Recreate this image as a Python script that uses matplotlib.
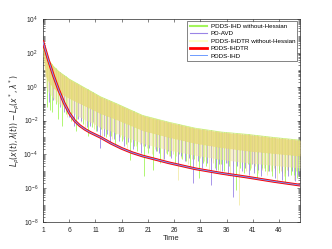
import numpy as np
import matplotlib
matplotlib.use("Agg")
import matplotlib.pyplot as plt
from matplotlib.ticker import LogLocator, NullFormatter

plt.rcParams['font.family'] = ['Liberation Sans', 'DejaVu Sans']
plt.rcParams['mathtext.fontset'] = 'dejavusans'

# ---- data (log10 of the gap) ----
t_smooth = [1, 2, 3, 4, 5, 6, 7, 8, 9, 10, 12, 14, 16, 18, 20, 23, 25, 30, 35, 40, 45, 50]
smooth_exp = [2.65, 1.6, 0.65, -0.2, -0.95, -1.55, -2.0, -2.3, -2.52, -2.7, -3.0, -3.35,
              -3.65, -3.9, -4.1, -4.34, -4.5, -4.85, -5.12, -5.35, -5.6, -5.82]

t_env = [1, 1.5, 2, 3, 4, 6, 8, 10, 12, 15, 20, 25, 30, 35, 40, 45, 50]
band_hi = [2.3, 1.9, 1.6, 1.2, 0.9, 0.45, 0.1, -0.25, -0.6, -1.0, -1.7, -2.1, -2.45, -2.68, -2.82, -3.0, -3.16]
band_lo = [1.9, 0.6, 0.3, -0.1, -0.35, -0.7, -1.0, -1.3, -1.6, -1.95, -2.6, -3.0, -3.35, -3.6, -3.8, -3.95, -4.1]
band_lo2 = [1.8, 0.0, -0.3, -0.7, -1.0, -1.4, -1.8, -2.1, -2.4, -2.75, -3.35, -3.75, -4.05, -4.3, -4.5, -4.65, -4.8]

# deep spikes
green_t = [1.8, 2.3, 2.7, 3.4, 3.9, 4.6, 5.3, 6.4, 7.2, 8.6, 9.5, 11.2, 13.0, 14.7, 16.1, 17.6, 19.0,
           20.2, 22.0, 23.3, 24.6, 26.2, 27.5, 29.0, 30.8, 32.1, 34.4, 35.6, 37.8, 39.3, 40.5, 41.8,
           43.4, 44.6, 46.0, 47.2, 48.3, 49.5]
green_lo = [-1.2, -1.4, -1.5, -1.0, -1.9, -2.3, -1.6, -2.0, -2.6, -2.2, -2.9, -2.6, -3.0, -3.45, -3.2,
            -4.35, -3.8, -5.3, -4.9, -4.5, -4.0, -4.6, -4.3, -4.8, -5.4, -4.7, -4.9, -5.0, -6.1, -5.1,
            -4.9, -5.4, -5.0, -5.3, -5.1, -5.7, -5.2, -5.4]
purple_t = [2.1, 3.0, 4.2, 5.0, 6.0, 7.0, 8.3, 9.4, 10.5, 11.9, 12.7, 13.8, 15.5, 16.4, 18.2, 19.7,
            21.3, 22.5, 24.0, 25.5, 26.8, 28.1, 29.6, 31.4, 33.0, 34.0, 35.2, 36.3, 37.3, 38.9, 40.2,
            41.2, 42.6, 44.0, 45.3, 46.5, 47.8, 49.0]
purple_lo = [-0.9, -0.8, -1.2, -1.5, -1.8, -2.3, -2.0, -2.4, -2.1, -3.6, -2.9, -3.3, -3.2, -3.5, -3.7,
             -3.9, -3.6, -3.8, -4.3, -4.2, -4.6, -4.4, -5.7, -4.8, -5.8, -4.9, -5.0, -5.2, -6.5, -5.0,
             -5.2, -5.1, -5.3, -5.0, -5.4, -5.5, -5.3, -5.6]
yellow_t = [5.5, 9.0, 12.3, 14.2, 17.0, 18.8, 21.8, 23.8, 25.0, 26.8, 28.7, 30.2, 32.6, 34.8, 36.7,
            38.4, 39.8, 42.0, 43.8, 45.6, 47.0, 48.8]
yellow_lo = [-1.8, -2.5, -2.9, -3.1, -3.6, -3.5, -4.0, -4.4, -4.1, -5.5, -4.6, -4.7, -4.9, -5.0, -5.3,
             -7.0, -5.0, -5.1, -5.2, -5.6, -5.3, -5.5]

# shallow spikes
green_t2 = [10.3, 12.1, 13.9, 15.4, 16.8, 18.3, 21.1, 22.7, 25.3, 26.9, 28.2, 29.8, 31.5, 33.0, 33.7,
            35.0, 36.4, 38.6, 40.0, 41.2, 42.7, 43.9, 45.3, 46.6, 47.8, 48.9, 49.8]
green_lo2 = [-2.4, -2.5, -2.9, -3.0, -3.4, -3.5, -3.9, -3.8, -4.1, -4.0, -4.4, -4.3, -4.5, -4.4, -4.8,
             -4.6, -4.7, -4.8, -4.6, -4.9, -4.8, -5.0, -4.9, -5.1, -5.0, -5.2, -5.0]
purple_t2 = [7.7, 9.9, 11.3, 13.2, 14.6, 17.3, 18.9, 20.5, 23.2, 24.8, 27.4, 28.8, 30.5, 32.3, 34.6,
             35.8, 37.9, 39.6, 40.8, 41.9, 43.3, 44.7, 46.0, 47.2, 48.4, 49.6]
purple_lo2 = [-1.9, -2.3, -2.6, -2.8, -3.1, -3.3, -3.4, -3.5, -3.9, -3.8, -4.1, -4.2, -4.4, -4.5, -4.6,
              -4.5, -4.7, -4.8, -4.6, -4.9, -4.8, -5.0, -4.9, -5.1, -5.0, -5.2]
yellow_t2 = [6.5, 7.5, 8.2, 10.0, 10.8, 11.6, 13.0, 13.6, 14.9, 15.6, 16.3, 17.7, 19.4, 20.0, 20.8,
             22.4, 23.1, 24.4, 25.7, 26.3, 27.3, 28.0, 29.4, 31.0, 31.7, 33.4, 34.1, 35.5, 36.1, 37.2,
             39.0, 40.6, 41.4, 42.7, 43.1, 44.4, 45.0, 46.3, 47.6, 48.2, 49.3]
yellow_lo2 = [-1.6, -1.9, -2.1, -2.2, -2.5, -2.4, -2.6, -2.9, -2.8, -3.0, -3.1, -3.3, -3.4, -3.5, -3.6,
              -3.7, -3.8, -3.9, -4.0, -4.1, -4.2, -4.0, -4.3, -4.2, -4.4, -4.5, -4.3, -4.6, -4.5, -4.7,
              -4.6, -4.8, -4.7, -4.9, -4.8, -5.0, -4.8, -5.0, -4.9, -5.1, -5.0]

labels = ['PDDS-IHD without-Hessian', 'PD-AVD', 'PDDS-IHDTR without-Hessian', 'PDDS-IHDTR', 'PDDS-IHD']
GREEN = '#A3F55C'
PURPLE = '#9A84E6'
YELLOW = '#FFFFC4'
BAND = '#E8DA7C'
RED = '#FF0000'
BLUE = '#6E9BFF'


def spikes(ax, ts, lows, color):
    top = 10 ** np.interp(ts, t_env, band_hi)
    ax.vlines(ts, 10 ** np.array(lows), top, colors=color, lw=0.6, zorder=2)


fig = plt.figure(figsize=(3.32, 2.49), dpi=100)
ax = fig.add_axes([0.1295, 0.1084, 0.7741, 0.8153])

spikes(ax, yellow_t2, yellow_lo2, '#EFE49C')
spikes(ax, yellow_t, yellow_lo, '#F3EBAA')
spikes(ax, green_t2, green_lo2, GREEN)
spikes(ax, purple_t2, purple_lo2, PURPLE)
spikes(ax, green_t, green_lo, GREEN)
spikes(ax, purple_t, purple_lo, PURPLE)
ax.fill_between(t_env, 10 ** np.array(band_lo2), 10 ** np.array(band_lo), color='#EEE3A0', alpha=0.5, lw=0, zorder=3)
ax.fill_between(t_env, 10 ** np.array(band_lo), 10 ** np.array(band_hi), color=BAND, alpha=0.9, lw=0, zorder=3)
ax.plot(t_env, 10 ** np.array(band_hi), color='#C8EE70', lw=0.5, zorder=3)

# legend proxies
ax.plot([], [], color=GREEN, lw=1.5, label=labels[0])
ax.plot([], [], color=PURPLE, lw=0.8, label=labels[1])
ax.plot([], [], color=YELLOW, lw=1.5, label=labels[2])
sm = 10 ** np.array(smooth_exp)
ax.plot(t_smooth, sm, color=RED, lw=2.0, label=labels[3], zorder=4)
ax.plot(t_smooth, sm, color=BLUE, lw=0.7, label=labels[4], zorder=5)

ax.set_yscale('log')
ax.set_xlim(1, 50)
ax.set_ylim(1e-8, 1e4)
ax.set_xticks([1, 6, 11, 16, 21, 26, 31, 36, 41, 46])
ax.set_yticks([1e-8, 1e-6, 1e-4, 1e-2, 1e0, 1e2, 1e4])
ax.yaxis.set_minor_locator(LogLocator(base=10, subs=np.arange(1, 10), numticks=100))
ax.yaxis.set_minor_formatter(NullFormatter())
ax.tick_params(which='both', direction='in', top=True, right=True, labelsize=4.8,
               colors='#262626', width=0.4)
ax.tick_params(which='major', length=2.5)
ax.tick_params(which='minor', length=1.3)
for s in ax.spines.values():
    s.set_linewidth(0.5)
    s.set_color('#262626')

ax.set_xlabel('Time', fontsize=5.5, color='#262626', labelpad=1)
ax.set_ylabel(r'$L_\rho(x(t),\lambda(t))-L_\rho(x^*,\lambda^*)$', fontsize=5.5, color='#262626', labelpad=1)

leg = ax.legend(loc='upper right', fontsize=4.5, frameon=True, fancybox=False,
                borderaxespad=0.4, handlelength=2.8, borderpad=0.35, labelspacing=0.32,
                handletextpad=0.6)
leg.get_frame().set_edgecolor('#262626')
leg.get_frame().set_linewidth(0.5)

fig.savefig('out.png', dpi=100)
